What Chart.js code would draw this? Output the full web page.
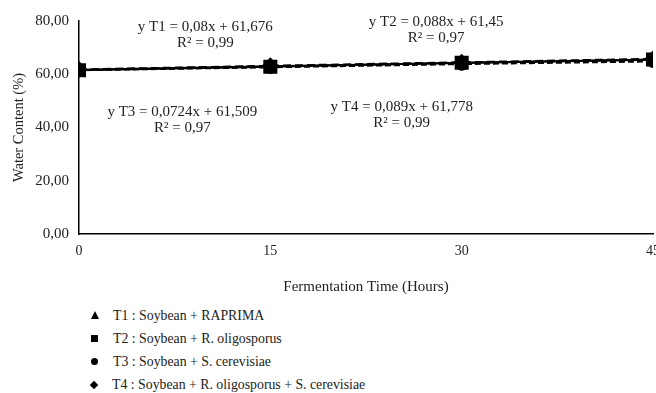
<!DOCTYPE html>
<html>
<head>
<meta charset="utf-8">
<script src="https://cdn.jsdelivr.net/npm/chart.js@4/dist/chart.umd.min.js"></script>
<style>
  body { margin: 0; background: #fff; overflow: hidden; width: 656px; height: 393px; position: relative; }
  #wrap { position: absolute; left: 0; top: 0; width: 665px; height: 300px; }
  #legend { position: absolute; left: 89px; top: 304px; font-family: "Liberation Serif", "Times New Roman", serif; font-size: 13.8px; color: #222; }
  #legend div { height: 23px; line-height: 23px; white-space: nowrap; }
  #legend i { display: inline-block; width: 7px; height: 7px; background: #000; margin: 0 15px 0 2px; vertical-align: 1px; }
  #legend i.tri { width: 0; height: 0; background: none; border-left: 4px solid transparent; border-right: 4px solid transparent; border-bottom: 8px solid #000; margin-right: 14px; }
  #legend i.dot { border-radius: 50%; }
  #legend i.dia { width: 6px; height: 6px; transform: rotate(45deg); }
</style>
</head>
<body>
<div id="wrap"><canvas id="chart"></canvas></div>
<div id="legend"></div>
<script>
// fermentation time (hours)
const hours = [0, 15, 30, 45];
const yTicks = [0, 20, 40, 60, 80];

// water content (%)
const t1 = [61.7, 63.0, 64.2, 65.4];
const t2 = [61.5, 62.8, 64.3, 65.5];
const t3 = [61.5, 62.6, 63.8, 64.8];
const t4 = [61.8, 63.2, 64.5, 65.8];

const seriesNames = [
    "T1 : Soybean + RAPRIMA",
    "T2 : Soybean + R. oligosporus",
    "T3 : Soybean + S. cerevisiae",
    "T4 : Soybean + R. oligosporus + S. cerevisiae"
];
const legendShapes = ["tri", "sq", "dot", "dia"];

// regression equations shown on the plot, anchored in data units (hours, %)
const equations = [
    { lines: ["y T1 = 0,08x + 61,676", "R\u00B2 = 0,99"], at: [9.9, 77.7] },
    { lines: ["y T2 = 0,088x + 61,45", "R\u00B2 = 0,97"], at: [28.0, 79.6] },
    { lines: ["y T3 = 0,0724x + 61,509", "R\u00B2 = 0,97"], at: [8.1, 45.8] },
    { lines: ["y T4 = 0,089x + 61,778", "R\u00B2 = 0,99"], at: [25.3, 47.7] }
];

function toXY(xs, ys) {
    return xs.map((x, i) => ({ x: x, y: ys[i] }));
}

const serif = "'Liberation Serif', 'Times New Roman', serif";

const equationLabels = {
    id: 'equationLabels',
    afterDatasetsDraw(chart) {
        const ctx = chart.ctx;
        const xs = chart.scales.x, ys = chart.scales.y;
        ctx.save();
        ctx.font = "15px " + serif;
        ctx.fillStyle = "#222";
        ctx.textAlign = "center";
        ctx.textBaseline = "middle";
        equations.forEach(eq => {
            const px = xs.getPixelForValue(eq.at[0]);
            const py = ys.getPixelForValue(eq.at[1]);
            eq.lines.forEach((line, i) => ctx.fillText(line, px, py + i * 16));
        });
        ctx.restore();
    }
};

const pointStyles = ['triangle', 'rect', 'circle', 'rectRot'];
const pointSizes = [6, 8.5, 5.5, 7];
const allSeries = [t1, t2, t3, t4];
const dashes = [[], [], [6, 3], [8, 4]];
const drawOrder = [2, 0, 3, 1]; // square markers end up on top

const chart = new Chart(document.getElementById('chart').getContext('2d'), {
    type: 'scatter',
    data: {
        datasets: allSeries.map((s, i) => ({
            label: seriesNames[i],
            data: toXY(hours, s),
            order: drawOrder[i],
            showLine: true,
            borderColor: '#000',
            backgroundColor: '#000',
            borderWidth: 2,
            borderDash: dashes[i],
            pointStyle: pointStyles[i],
            pointRadius: pointSizes[i],
            pointBackgroundColor: '#000',
            pointBorderColor: '#000'
        }))
    },
    options: {
        responsive: true,
        maintainAspectRatio: false,
        animation: false,
        layout: { padding: { top: 21, right: 0, left: 10, bottom: 0 } },
        plugins: {
            legend: { display: false },
            tooltip: { enabled: false }
        },
        scales: {
            x: {
                type: 'linear',
                min: 0,
                max: 45,
                afterBuildTicks: scale => { scale.ticks = hours.map(v => ({ value: v })); },
                grid: { display: false, drawTicks: true, tickLength: 4, color: '#000' },
                border: { color: '#000', width: 1.5 },
                ticks: { color: '#222', font: { family: serif, size: 14 }, padding: 5, maxRotation: 0 },
                title: { display: true, text: 'Fermentation Time (Hours)', color: '#222', font: { family: serif, size: 15 }, padding: { top: 9 } },
                afterFit: scale => { scale.height = 66; }
            },
            y: {
                min: 0,
                max: 80,
                afterBuildTicks: scale => { scale.ticks = yTicks.map(v => ({ value: v })); },
                grid: { display: false, drawTicks: true, tickLength: 5, color: '#000' },
                border: { color: '#000', width: 1.5 },
                ticks: {
                    color: '#222',
                    font: { family: serif, size: 15 },
                    padding: 5,
                    callback: v => v.toFixed(2).replace('.', ',')
                },
                title: { display: true, text: 'Water Content (%)', color: '#222', font: { family: serif, size: 14.5 }, padding: 0 },
                afterFit: scale => { scale.width = 69; }
            }
        }
    },
    plugins: [equationLabels]
});

const legendDiv = document.getElementById('legend');
legendDiv.innerHTML = seriesNames.map((n, i) =>
    `<div><i class="${legendShapes[i]}"></i>${n}</div>`).join('');
</script>
</body>
</html>
